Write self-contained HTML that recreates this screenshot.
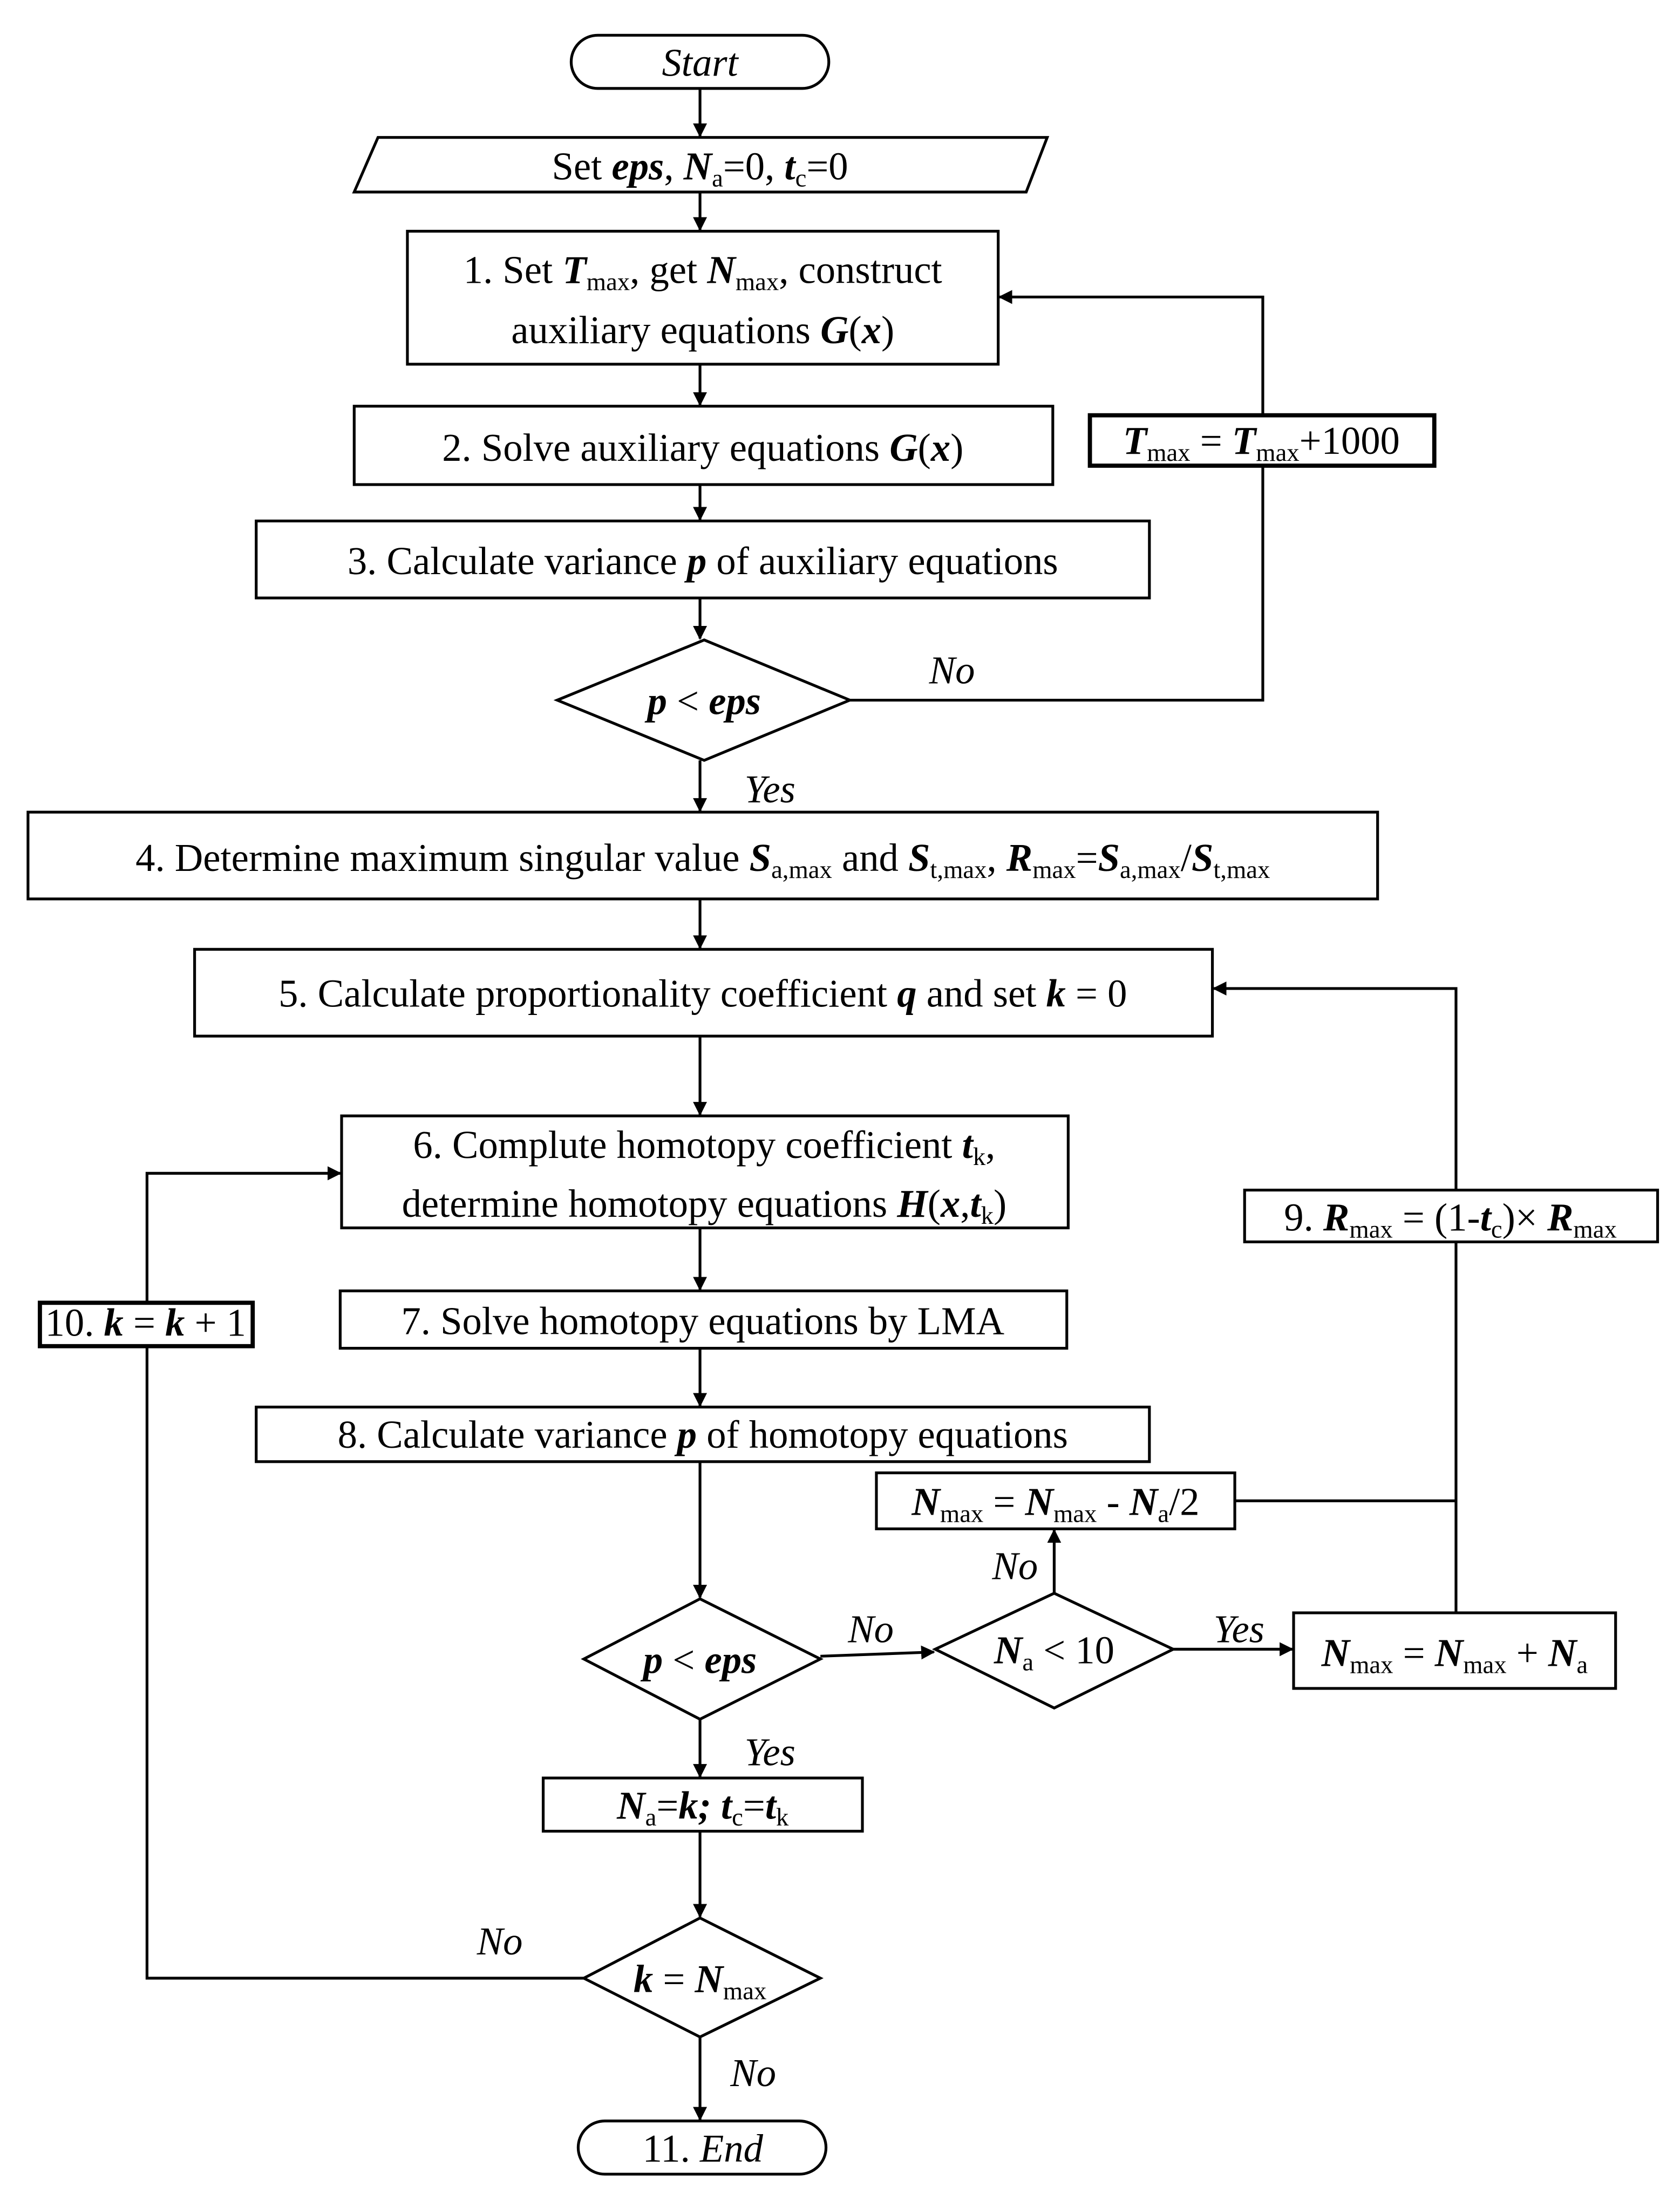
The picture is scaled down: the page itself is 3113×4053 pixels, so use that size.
<!DOCTYPE html>
<html><head><meta charset="utf-8">
<style>
html,body{margin:0;padding:0;background:#fff;}
svg{display:block;}
text{font-family:"Liberation Serif",serif;font-size:28px;fill:#000;}
.b{font-weight:bold;font-style:italic;}
.i{font-style:italic;}
</style></head><body>
<svg width="3113" height="4053" viewBox="0 0 1200 1562" xmlns="http://www.w3.org/2000/svg">
<defs>
<marker id="a" markerWidth="10" markerHeight="10" refX="9" refY="5" orient="auto" markerUnits="userSpaceOnUse" viewBox="0 0 10 10">
<path d="M0,0 L10,5 L0,10 z" fill="#000"/>
</marker>
</defs>
<g stroke="#000" stroke-width="2" fill="none">
<rect x="408" y="25" width="184" height="38" rx="19"/>
<polygon points="270,98 748,98 733,137 253,137"/>
<rect x="291" y="165" width="422" height="95"/>
<rect x="253" y="290" width="499" height="56"/>
<rect x="183" y="372" width="638" height="55"/>
<polygon points="398,500 503,457 607,500 503,543"/>
<rect x="778" y="296" width="247" height="37" fill="#fff"/>
<rect x="20" y="580" width="964" height="62"/>
<rect x="139" y="678" width="727" height="62"/>
<rect x="244" y="797" width="519" height="80"/>
<rect x="243" y="922" width="519" height="41"/>
<rect x="183" y="1005" width="638" height="39"/>
<polygon points="417,1185 500,1142 586,1185 500,1228"/>
<polygon points="668,1178 753,1138 838,1178 753,1220"/>
<rect x="924" y="1152" width="230" height="54"/>
<rect x="626" y="1052" width="256" height="40"/>
<rect x="889" y="850" width="295" height="37"/>
<rect x="388" y="1270" width="228" height="38"/>
<polygon points="417,1413 500,1370 586,1413 500,1455"/>
<rect x="28" y="930" width="153" height="32"/>
<rect x="413" y="1515" width="177" height="38" rx="19"/>
<!-- arrows -->
<g marker-end="url(#a)">
<line x1="500" y1="63" x2="500" y2="97"/>
<line x1="500" y1="137" x2="500" y2="164"/>
<line x1="500" y1="260" x2="500" y2="289"/>
<line x1="500" y1="346" x2="500" y2="371"/>
<line x1="500" y1="427" x2="500" y2="456"/>
<polyline points="607,500 902,500 902,212 714,212"/>
<line x1="500" y1="543" x2="500" y2="579"/>
<line x1="500" y1="642" x2="500" y2="677"/>
<line x1="500" y1="740" x2="500" y2="796"/>
<line x1="500" y1="877" x2="500" y2="921"/>
<line x1="500" y1="963" x2="500" y2="1004"/>
<line x1="500" y1="1044" x2="500" y2="1141"/>
<line x1="586" y1="1183" x2="667" y2="1180"/>
<line x1="838" y1="1178" x2="923" y2="1178"/>
<line x1="753" y1="1138" x2="753" y2="1093"/>
<polyline points="1040,850 1040,706 867,706"/>
<line x1="500" y1="1228" x2="500" y2="1269"/>
<line x1="500" y1="1308" x2="500" y2="1369"/>
<polyline points="417,1413 105,1413 105,838 243,838"/>
<line x1="500" y1="1455" x2="500" y2="1514"/>
</g>
<polyline points="882,1072 1040,1072"/>
<line x1="1040" y1="1152" x2="1040" y2="887"/>
</g>
<rect x="779" y="297" width="245" height="35" fill="#fff"/>
<rect x="779" y="297" width="245" height="35" fill="none" stroke="#000" stroke-width="2"/>
<rect x="29" y="931" width="151" height="30" fill="#fff" stroke="#000" stroke-width="2"/>
<g text-anchor="middle">
<text x="500" y="54" class="i">Start</text>
<text x="500" y="128">Set <tspan class="b">eps</tspan>, <tspan class="b">N</tspan><tspan font-size="18" dy="5">a</tspan><tspan dy="-5">=0, </tspan><tspan class="b">t</tspan><tspan font-size="18" dy="5">c</tspan><tspan dy="-5">=0</tspan></text>
<text x="502" y="202">1. Set <tspan class="b">T</tspan><tspan font-size="18" dy="5">max</tspan><tspan dy="-5">, get </tspan><tspan class="b">N</tspan><tspan font-size="18" dy="5">max</tspan><tspan dy="-5">, construct</tspan></text>
<text x="502" y="245">auxiliary equations <tspan font-weight="bold" font-style="italic">G</tspan>(<tspan class="b">x</tspan>)</text>
<text x="502" y="329">2. Solve auxiliary equations <tspan class="b">G</tspan>(<tspan class="b">x</tspan>)</text>
<text x="502" y="410">3. Calculate variance <tspan class="b">p</tspan> of auxiliary equations</text>
<text x="503" y="510"><tspan class="b">p</tspan> &lt; <tspan class="b">eps</tspan></text>
<text x="901" y="324"><tspan class="b">T</tspan><tspan font-size="18" dy="5">max</tspan><tspan dy="-5"> = </tspan><tspan class="b">T</tspan><tspan font-size="18" dy="5">max</tspan><tspan dy="-5">+1000</tspan></text>
<text x="680" y="488" class="i">No</text>
<text x="550" y="573" class="i">Yes</text>
<text x="502" y="622">4. Determine maximum singular value <tspan class="b">S</tspan><tspan font-size="18" dy="5">a,max</tspan><tspan dy="-5"> and </tspan><tspan class="b">S</tspan><tspan font-size="18" dy="5">t,max</tspan><tspan dy="-5">, </tspan><tspan class="b">R</tspan><tspan font-size="18" dy="5">max</tspan><tspan dy="-5">=</tspan><tspan class="b">S</tspan><tspan font-size="18" dy="5">a,max</tspan><tspan dy="-5">/</tspan><tspan class="b">S</tspan><tspan font-size="18" dy="5">t,max</tspan></text>
<text x="502" y="719">5. Calculate proportionality coefficient  <tspan class="b">q</tspan> and set <tspan class="b">k</tspan> = 0</text>
<text x="503" y="827">6. Complute homotopy coefficient <tspan class="b">t</tspan><tspan font-size="18" dy="5">k</tspan><tspan dy="-5">,</tspan></text>
<text x="503" y="869">determine homotopy equations <tspan class="b">H</tspan>(<tspan class="b">x</tspan>,<tspan class="b">t</tspan><tspan font-size="18" dy="5">k</tspan><tspan dy="-5">)</tspan></text>
<text x="502" y="953">7. Solve homotopy equations by LMA</text>
<text x="502" y="1034">8. Calculate variance <tspan class="b">p</tspan> of homotopy equations</text>
<text x="500" y="1195"><tspan class="b">p</tspan> &lt; <tspan class="b">eps</tspan></text>
<text x="622" y="1173" class="i">No</text>
<text x="753" y="1188"><tspan class="b">N</tspan><tspan font-size="18" dy="5">a</tspan><tspan dy="-5"> &lt; 10</tspan></text>
<text x="885" y="1173" class="i">Yes</text>
<text x="1039" y="1190"><tspan class="b">N</tspan><tspan font-size="18" dy="5">max</tspan><tspan dy="-5"> = </tspan><tspan class="b">N</tspan><tspan font-size="18" dy="5">max</tspan><tspan dy="-5"> + </tspan><tspan class="b">N</tspan><tspan font-size="18" dy="5">a</tspan></text>
<text x="725" y="1128" class="i">No</text>
<text x="754" y="1082"><tspan class="b">N</tspan><tspan font-size="18" dy="5">max</tspan><tspan dy="-5"> = </tspan><tspan class="b">N</tspan><tspan font-size="18" dy="5">max</tspan><tspan dy="-5"> - </tspan><tspan class="b">N</tspan><tspan font-size="18" dy="5">a</tspan><tspan dy="-5">/2</tspan></text>
<text x="1036" y="879">9. <tspan class="b">R</tspan><tspan font-size="18" dy="5">max</tspan><tspan dy="-5"> = (1-</tspan><tspan class="b">t</tspan><tspan font-size="18" dy="5">c</tspan><tspan dy="-5">)× </tspan><tspan class="b">R</tspan><tspan font-size="18" dy="5">max</tspan></text>
<text x="550" y="1261" class="i">Yes</text>
<text x="502" y="1299"><tspan class="b">N</tspan><tspan font-size="18" dy="5">a</tspan><tspan dy="-5">=</tspan><tspan class="b">k; t</tspan><tspan font-size="18" dy="5">c</tspan><tspan dy="-5">=</tspan><tspan class="b">t</tspan><tspan font-size="18" dy="5">k</tspan></text>
<text x="357" y="1396" class="i">No</text>
<text x="500" y="1423"><tspan class="b">k</tspan> = <tspan class="b">N</tspan><tspan font-size="18" dy="5">max</tspan></text>
<text x="104" y="954" font-size="24">10. <tspan class="b">k</tspan> = <tspan class="b">k</tspan> + 1</text>
<text x="538" y="1490" class="i">No</text>
<text x="502" y="1544">11. <tspan class="i">End</tspan></text>
</g>
</svg>
</body></html>
